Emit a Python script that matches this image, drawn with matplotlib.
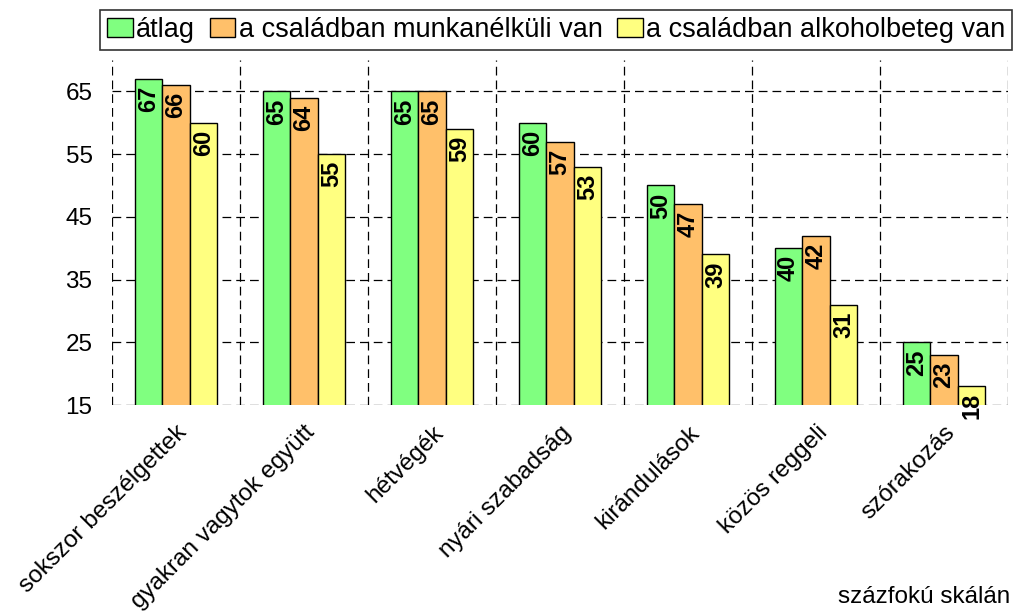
import numpy as np
import matplotlib.pyplot as plt

plt.rcParams['font.family'] = ['Liberation Sans', 'DejaVu Sans']

categories = ['sokszor beszélgettek', 'gyakran vagytok együtt', 'hétvégék',
              'nyári szabadság', 'kirándulások', 'közös reggeli', 'szórakozás']
series_names = ['átlag', 'a családban munkanélküli van', 'a családban alkoholbeteg van']
atlag = [67, 65, 65, 60, 50, 40, 25]
munkanelkuli = [66, 64, 65, 57, 47, 42, 23]
alkoholbeteg = [60, 55, 59, 53, 39, 31, 18]
yticks = [15, 25, 35, 45, 55, 65]

colors = ['#80FF80', '#FFC06A', '#FFFF80']
series = [atlag, munkanelkuli, alkoholbeteg]

fig = plt.figure(figsize=(10.14, 6.15), dpi=100)
ax = fig.add_axes([112 / 1014, 1 - 405 / 615, 896 / 1014, 345 / 615])

x = np.arange(len(categories))
w = 0.215
for i, (vals, c, name) in enumerate(zip(series, colors, series_names)):
    pos = x + (i - 1) * w
    ax.bar(pos, vals, width=w, bottom=0, color=c, edgecolor='black',
           linewidth=1, label=name, zorder=3)
    for px, v in zip(pos, vals):
        ax.text(px, v - 1.1, str(v), rotation=90, ha='center', va='top',
                fontsize=17, fontweight='bold', zorder=4, clip_on=False)

ax.set_ylim(15, 70)
ax.set_xlim(-0.5, len(categories) - 0.5)
ax.set_yticks(yticks)
ax.set_xticks(x)
ax.set_xticklabels(categories, rotation=45, ha='right', rotation_mode='anchor',
                   fontsize=17.5)
ax.tick_params(axis='y', length=0, pad=14, labelsize=17.5)
ax.tick_params(axis='x', length=0, pad=12)
for s in ax.spines.values():
    s.set_visible(False)

dash = (0, (7, 4))
for yv in yticks:
    ax.axhline(yv, color='black', linewidth=0.9, linestyle=dash, zorder=1)
for xv in np.arange(len(categories) + 1) - 0.5:
    ax.axvline(xv, color='black', linewidth=0.9, linestyle=dash, zorder=1)

leg = fig.legend(loc='upper left', bbox_to_anchor=(100 / 1014, 1 - 10 / 615), ncol=3,
                 fontsize=19.5, frameon=True, fancybox=False, edgecolor='black',
                 handlelength=0.95, handleheight=0.7, handletextpad=0.12,
                 columnspacing=0.55, borderpad=0.25, borderaxespad=0)
leg.get_frame().set_linewidth(1.2)

fig.text(1010 / 1014, 1 - 597 / 615, 'százfokú skálán', ha='right', va='center',
         fontsize=17.5)

fig.savefig('out.png', dpi=100)
